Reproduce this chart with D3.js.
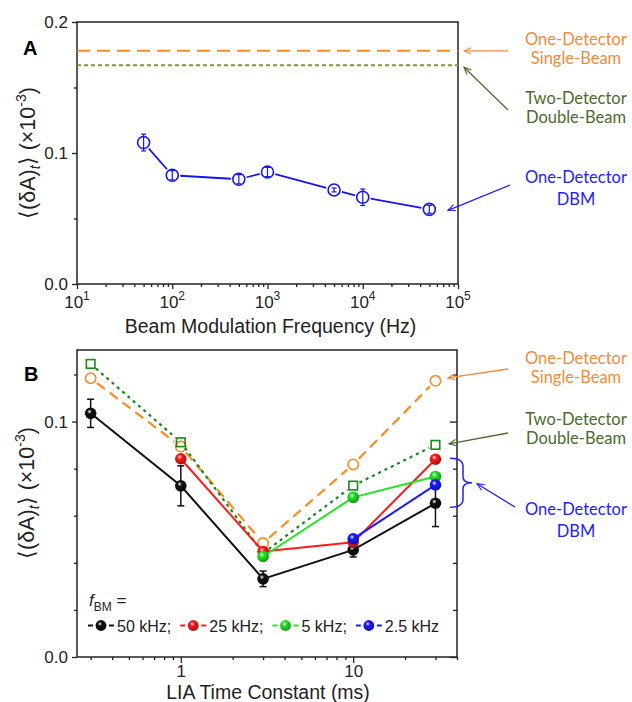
<!DOCTYPE html>
<html lang="en">
<head>
<meta charset="UTF-8">
<title>Noise vs modulation frequency and LIA time constant</title>
<script src="https://d3js.org/d3.v7.min.js"></script>
<style>
  body { margin: 0; background: #fff; }
  svg { display: block; font-family: Arial, "Liberation Sans", sans-serif; }
  .note { font-family: Lato, "Open Sans", sans-serif; font-size: 16.5px; text-anchor: middle; }
</style>
</head>
<body>
<script>
// ---- panel A: noise vs beam modulation frequency ----
const freqA = [50, 100, 500, 1000, 5000, 10000, 50000];
const noiseA = [0.108, 0.083, 0.080, 0.0855, 0.0718, 0.0662, 0.057];
const errA = [0.0064, 0.0035, 0.0035, 0.0035, 0.0015, 0.0063, 0.003];
const singleBeamA = 0.178;
const doubleBeamA = 0.167;

// ---- panel B: noise vs LIA time constant ----
const tcB = [0.3, 1, 3, 10, 30];
const k50 = [0.1035, 0.0727, 0.0332, 0.0455, 0.0653];
const err50 = [0.006, 0.0085, 0.0033, 0.003, 0.0099];
const k25 = [null, 0.0842, 0.0448, 0.0487, 0.084];
const k5 = [null, null, 0.0427, 0.0678, 0.0767];
const k2p5 = [null, null, null, 0.0502, 0.0731];
const singleB = [0.1184, 0.0894, 0.0484, 0.0818, 0.1173];
const doubleB = [0.1245, 0.0912, 0.0441, 0.0728, 0.0901];
const legendLabels = ["50 kHz;", "25 kHz;", "5 kHz;", "2.5 kHz"];

const axisCol = "#222";
const orange = "#ff8a1f", olive = "#8a9528", dkGreen = "#178a17";
const noteOrange = "#f28a3c", noteGreen = "#4b6b2c", noteBlue = "#1e1eff";
const seriesB = [
  { vals: k50, color: "#111111", err: err50 },
  { vals: k25, color: "#ff1a1a" },
  { vals: k5, color: "#22e622" },
  { vals: k2p5, color: "#1a1aff" }
];

const svg = d3.select("body").append("svg")
  .attr("width", 632)
  .attr("height", 702);

const defs = svg.append("defs");
seriesB.forEach((s, i) => {
  const g = defs.append("radialGradient").attr("id", "ball" + i)
    .attr("cx", "40%").attr("cy", "35%").attr("r", "65%");
  g.append("stop").attr("offset", "0%").attr("stop-color", "#fff");
  g.append("stop").attr("offset", "30%").attr("stop-color", s.color);
  g.append("stop").attr("offset", "100%").attr("stop-color", d3.color(s.color).darker(1.2));
});
[["arrOrange", noteOrange], ["arrGreen", noteGreen], ["arrBlue", noteBlue]].forEach(([id, c]) => {
  defs.append("marker").attr("id", id)
    .attr("viewBox", "-1 -5 10 10").attr("refX", 8).attr("refY", 0)
    .attr("markerWidth", 9).attr("markerHeight", 9).attr("markerUnits", "userSpaceOnUse")
    .attr("orient", "auto")
    .append("path").attr("d", "M0,-3.5 L8,0 L0,3.5")
    .attr("fill", "none").attr("stroke", c).attr("stroke-width", 1.2);
});

// scales
const xA = d3.scaleLog().domain([10, 1e5]).range([77, 458]);
const yA = d3.scaleLinear().domain([0, 0.2]).range([284, 22]);
const xB = d3.scaleLog().domain([0.25, 40]).range([77, 457]);
const yB = d3.scaleLinear().domain([0, 0.1304]).range([657, 350]);

function styleAxis(g) {
  g.select(".domain").remove();
  g.selectAll(".tick line").attr("stroke", axisCol).attr("stroke-width", 1.3);
  g.attr("font-family", null).attr("font-size", 17);
  g.selectAll(".tick text").attr("fill", axisCol);
}

function frame(x, y) {
  svg.append("rect")
    .attr("x", x.range()[0]).attr("y", y.range()[1])
    .attr("width", x.range()[1] - x.range()[0])
    .attr("height", y.range()[0] - y.range()[1])
    .attr("fill", "none").attr("stroke", axisCol).attr("stroke-width", 1.5);
}

function minorLog(lo, hi) {
  const out = [];
  for (let e = lo; e < hi; e++) for (let m = 2; m <= 9; m++) out.push(m * Math.pow(10, e));
  return out;
}

function yTitle(cx, cy) {
  const t = svg.append("text")
    .attr("transform", `translate(${cx},${cy}) rotate(-90)`)
    .attr("text-anchor", "middle").attr("font-size", 21.5).attr("fill", axisCol);
  t.append("tspan").text("⟨(δA)");
  t.append("tspan").attr("font-size", 14).attr("font-style", "italic").attr("dy", 5).text("t");
  t.append("tspan").attr("dy", -5).text("⟩ (×10");
  t.append("tspan").attr("font-size", 14).attr("dy", -9).text("-3");
  t.append("tspan").attr("dy", 9).text(")");
}

// segment between two points, trimmed at either end
function seg(p, q, t0, t1) {
  const dx = q[0] - p[0], dy = q[1] - p[1], L = Math.hypot(dx, dy);
  return [p[0] + dx / L * t0, p[1] + dy / L * t0, q[0] - dx / L * t1, q[1] - dy / L * t1];
}

function note(x, lines, color) {
  lines.forEach(([txt, y]) => {
    svg.append("text").attr("class", "note").attr("x", x).attr("y", y)
      .attr("fill", color).text(txt);
  });
}

function arrow(x1, y1, x2, y2, color, id) {
  svg.append("line").attr("x1", x1).attr("y1", y1).attr("x2", x2).attr("y2", y2)
    .attr("stroke", color).attr("stroke-width", 1.3)
    .attr("marker-end", `url(#${id})`);
}

// =================== PANEL A ===================
frame(xA, yA);
svg.append("g").attr("transform", "translate(77,0)")
  .call(d3.axisLeft(yA).tickValues([0, 0.1, 0.2]).tickSize(5).tickPadding(4).tickFormat(d3.format(".1f")))
  .call(styleAxis);
svg.append("g").attr("transform", "translate(77,0)")
  .call(d3.axisLeft(yA).tickValues([0.05, 0.15]).tickSize(3).tickFormat(""))
  .call(styleAxis);
svg.append("g").attr("transform", "translate(0,284)")
  .call(d3.axisBottom(xA).tickValues([10, 100, 1e3, 1e4, 1e5]).tickSize(5).tickFormat(""))
  .call(styleAxis);
svg.append("g").attr("transform", "translate(0,284)")
  .call(d3.axisBottom(xA).tickValues(minorLog(1, 5)).tickSize(3).tickFormat(""))
  .call(styleAxis);
[1, 2, 3, 4, 5].forEach(e => {
  const t = svg.append("text").attr("x", xA(Math.pow(10, e))).attr("y", 308)
    .attr("text-anchor", "middle").attr("font-size", 17).attr("fill", axisCol);
  t.append("tspan").text("10");
  t.append("tspan").attr("font-size", 12).attr("dy", -8).text(e);
});
svg.append("text").attr("x", xA(Math.sqrt(10 * 1e5)) + 3).attr("y", 333)
  .attr("text-anchor", "middle").attr("font-size", 19.5).attr("fill", axisCol)
  .text("Beam Modulation Frequency (Hz)");
yTitle(35, 153);
svg.append("text").attr("x", 23).attr("y", 55).attr("font-size", 20)
  .attr("font-weight", "bold").text("A");

// reference lines
svg.append("line").attr("x1", xA.range()[0]).attr("x2", xA.range()[1])
  .attr("y1", yA(singleBeamA)).attr("y2", yA(singleBeamA))
  .attr("stroke", orange).attr("stroke-width", 2).attr("stroke-dasharray", "13,7");
svg.append("line").attr("x1", xA.range()[0]).attr("x2", xA.range()[1])
  .attr("y1", yA(doubleBeamA)).attr("y2", yA(doubleBeamA))
  .attr("stroke", olive).attr("stroke-width", 2).attr("stroke-dasharray", "4,3");

// DBM series
const blueA = "#1515f0";
const ptsA = freqA.map((f, i) => [xA(f), yA(noiseA[i])]);
for (let i = 0; i < ptsA.length - 1; i++) {
  const s = seg(ptsA[i], ptsA[i + 1], 8, 8);
  svg.append("line").attr("x1", s[0]).attr("y1", s[1]).attr("x2", s[2]).attr("y2", s[3])
    .attr("stroke", blueA).attr("stroke-width", 1.8);
}
freqA.forEach((f, i) => {
  const x = xA(f), y0 = yA(noiseA[i] - errA[i]), y1 = yA(noiseA[i] + errA[i]);
  svg.append("line").attr("x1", x).attr("x2", x).attr("y1", y0).attr("y2", y1)
    .attr("stroke", blueA).attr("stroke-width", 1.2);
  [y0, y1].forEach(y => svg.append("line").attr("x1", x - 2.5).attr("x2", x + 2.5)
    .attr("y1", y).attr("y2", y).attr("stroke", blueA).attr("stroke-width", 1.2));
  svg.append("circle").attr("cx", x).attr("cy", yA(noiseA[i])).attr("r", 6)
    .attr("fill", "none").attr("stroke", blueA).attr("stroke-width", 1.6);
});

// annotations A
note(576, [["One-Detector", 44.5], ["Single-Beam", 63.5]], noteOrange);
note(576, [["Two-Detector", 104], ["Double-Beam", 122.5]], noteGreen);
note(576, [["One-Detector", 183], ["DBM", 205]], noteBlue);
arrow(508, yA(singleBeamA), 464, yA(singleBeamA), noteOrange, "arrOrange");
arrow(508, 110, 464, yA(doubleBeamA) + 2, noteGreen, "arrGreen");
arrow(510, 185, 448, yA(noiseA[6]) + 1, noteBlue, "arrBlue");

// =================== PANEL B ===================
frame(xB, yB);
svg.append("g").attr("transform", "translate(77,0)")
  .call(d3.axisLeft(yB).tickValues([0, 0.1]).tickSize(5).tickPadding(4).tickFormat(d3.format(".1f")))
  .call(styleAxis);
svg.append("g").attr("transform", "translate(77,0)")
  .call(d3.axisLeft(yB).tickValues([0.02, 0.04, 0.06, 0.08, 0.12]).tickSize(3).tickFormat(""))
  .call(styleAxis);
svg.append("g").attr("transform", "translate(457,0)")
  .call(d3.axisLeft(yB).tickValues([0, 0.1]).tickSize(7).tickFormat(""))
  .call(styleAxis);
svg.append("g").attr("transform", "translate(457,0)")
  .call(d3.axisLeft(yB).tickValues([0.02, 0.04, 0.06, 0.08, 0.12]).tickSize(4).tickFormat(""))
  .call(styleAxis);
svg.append("g").attr("transform", "translate(0,657)")
  .call(d3.axisBottom(xB).tickValues([1, 10]).tickSize(6).tickPadding(2).tickFormat(d3.format("d")))
  .call(styleAxis);
svg.append("g").attr("transform", "translate(0,657)")
  .call(d3.axisBottom(xB).tickValues(minorLog(-1, 2).filter(v => v > 0.25 && v <= 40)).tickSize(3).tickFormat(""))
  .call(styleAxis);
svg.append("text").attr("x", 268).attr("y", 698.5)
  .attr("text-anchor", "middle").attr("font-size", 19.5).attr("fill", axisCol)
  .text("LIA Time Constant (ms)");
yTitle(34, 493);
svg.append("text").attr("x", 24).attr("y", 381).attr("font-size", 20)
  .attr("font-weight", "bold").text("B");

// single-beam (open circles, dashed) and double-beam (open squares, dotted)
function openSeries(vals, color, dash, gap) {
  const pts = tcB.map((t, i) => [xB(t), yB(vals[i])]);
  for (let i = 0; i < pts.length - 1; i++) {
    const s = seg(pts[i], pts[i + 1], gap, gap);
    svg.append("line").attr("x1", s[0]).attr("y1", s[1]).attr("x2", s[2]).attr("y2", s[3])
      .attr("stroke", color).attr("stroke-width", 2.2).attr("stroke-dasharray", dash);
  }
  return pts;
}
openSeries(singleB, orange, "10,6", 8).forEach(p => {
  svg.append("circle").attr("cx", p[0]).attr("cy", p[1]).attr("r", 5.2)
    .attr("fill", "none").attr("stroke", orange).attr("stroke-width", 1.6);
});
openSeries(doubleB, dkGreen, "3,4", 7).forEach(p => {
  svg.append("rect").attr("x", p[0] - 4.3).attr("y", p[1] - 4.3).attr("width", 8.6).attr("height", 8.6)
    .attr("fill", "none").attr("stroke", dkGreen).attr("stroke-width", 1.6);
});

// DBM series at different modulation frequencies
seriesB.forEach((s, k) => {
  const pts = tcB.map((t, i) => s.vals[i] == null ? null : [xB(t), yB(s.vals[i]), i]).filter(p => p);
  svg.append("path").datum(pts)
    .attr("d", d3.line().x(p => p[0]).y(p => p[1]))
    .attr("fill", "none").attr("stroke", s.color).attr("stroke-width", 2);
  pts.forEach(p => {
    if (s.err) {
      const y0 = yB(s.vals[p[2]] - s.err[p[2]]), y1 = yB(s.vals[p[2]] + s.err[p[2]]);
      svg.append("line").attr("x1", p[0]).attr("x2", p[0]).attr("y1", y0).attr("y2", y1)
        .attr("stroke", s.color).attr("stroke-width", 1.5);
      [y0, y1].forEach(y => svg.append("line").attr("x1", p[0] - 3.5).attr("x2", p[0] + 3.5)
        .attr("y1", y).attr("y2", y).attr("stroke", s.color).attr("stroke-width", 1.5));
    }
    svg.append("circle").attr("cx", p[0]).attr("cy", p[1]).attr("r", 5.8)
      .attr("fill", `url(#ball${k})`);
  });
});

// legend
const fb = svg.append("text").attr("x", 89).attr("y", 606).attr("font-size", 17).attr("fill", axisCol);
fb.append("tspan").attr("font-style", "italic").text("f");
fb.append("tspan").attr("font-size", 12).attr("dy", 5).text("BM");
fb.append("tspan").attr("dy", -5).text(" =");

let lx = 88;
seriesB.forEach((s, k) => {
  const cy = 625.5, cx = lx + 13;
  [[lx, lx + 5], [cx + 8, cx + 13]].forEach(([a, b]) => svg.append("line")
    .attr("x1", a).attr("x2", b).attr("y1", cy).attr("y2", cy)
    .attr("stroke", s.color).attr("stroke-width", 2));
  svg.append("circle").attr("cx", cx).attr("cy", cy).attr("r", 5.4).attr("fill", `url(#ball${k})`);
  const t = svg.append("text").attr("x", cx + 16).attr("y", 631.5)
    .attr("font-size", 16).attr("fill", axisCol).text(legendLabels[k]);
  lx = cx + 16 + t.node().getComputedTextLength() + 9;
});

// annotations B
note(576, [["One-Detector", 364], ["Single-Beam", 382.5]], noteOrange);
note(576, [["Two-Detector", 425], ["Double-Beam", 444]], noteGreen);
note(576, [["One-Detector", 515], ["DBM", 537]], noteBlue);
arrow(508, 369, 448, yB(singleB[4]) - 3, noteOrange, "arrOrange");
arrow(508, 433, 449, yB(doubleB[4]) - 1, noteGreen, "arrGreen");

// brace around the DBM points at 30 ms
const bTop = yB(k25[4]) - 1, bBot = yB(k50[4]) + 4, bMid = (bTop + bBot) / 2;
svg.append("path")
  .attr("d", `M450,${bTop} Q463,${bTop} 463,${bTop + 8} L463,${bMid - 6} Q463,${bMid} 472,${bMid}` +
    ` Q463,${bMid} 463,${bMid + 6} L463,${bBot - 8} Q463,${bBot} 450,${bBot}`)
  .attr("fill", "none").attr("stroke", noteBlue).attr("stroke-width", 1.5);
arrow(515, 507, 477, bMid + 1, noteBlue, "arrBlue");
</script>
</body>
</html>
